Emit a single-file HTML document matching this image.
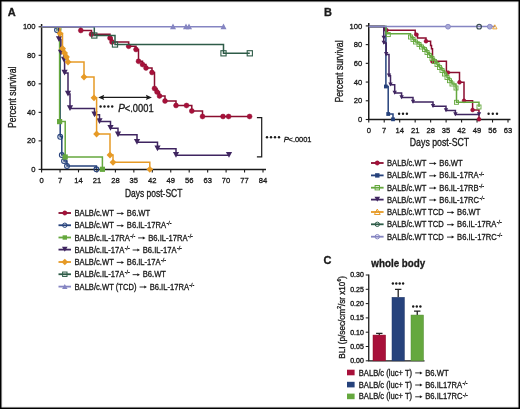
<!DOCTYPE html>
<html><head><meta charset="utf-8"><style>
html,body{margin:0;padding:0;background:#fff;}
body{width:520px;height:409px;overflow:hidden;}
svg{display:block;will-change:transform;}
text{stroke:#1a1a1a;stroke-width:0.32px;paint-order:stroke;}
</style></head><body>
<svg width="520" height="409" viewBox="0 0 520 409" font-family="'Liberation Sans', sans-serif">
<rect x="0" y="0" width="520" height="409" fill="#fff"/>
<path d="M41.6,24.0 V169.4 H266" fill="none" stroke="#1a1a1a" stroke-width="1.5"/>
<path d="M38.6,169.4 H41.6" stroke="#1a1a1a" stroke-width="1.1"/>
<text transform="translate(35.6,172.0) scale(0.94,1)" font-size="8.1" text-anchor="end" font-weight="normal" font-style="normal" fill="#1a1a1a" >0</text>
<path d="M38.6,140.88 H41.6" stroke="#1a1a1a" stroke-width="1.1"/>
<text transform="translate(35.6,143.48) scale(0.94,1)" font-size="8.1" text-anchor="end" font-weight="normal" font-style="normal" fill="#1a1a1a" >20</text>
<path d="M38.6,112.36000000000001 H41.6" stroke="#1a1a1a" stroke-width="1.1"/>
<text transform="translate(35.6,114.96000000000001) scale(0.94,1)" font-size="8.1" text-anchor="end" font-weight="normal" font-style="normal" fill="#1a1a1a" >40</text>
<path d="M38.6,83.84 H41.6" stroke="#1a1a1a" stroke-width="1.1"/>
<text transform="translate(35.6,86.44) scale(0.94,1)" font-size="8.1" text-anchor="end" font-weight="normal" font-style="normal" fill="#1a1a1a" >60</text>
<path d="M38.6,55.32000000000001 H41.6" stroke="#1a1a1a" stroke-width="1.1"/>
<text transform="translate(35.6,57.92000000000001) scale(0.94,1)" font-size="8.1" text-anchor="end" font-weight="normal" font-style="normal" fill="#1a1a1a" >80</text>
<path d="M38.6,26.80000000000001 H41.6" stroke="#1a1a1a" stroke-width="1.1"/>
<text transform="translate(35.6,29.400000000000013) scale(0.94,1)" font-size="8.1" text-anchor="end" font-weight="normal" font-style="normal" fill="#1a1a1a" >100</text>
<path d="M41.6,169.4 V172.4" stroke="#1a1a1a" stroke-width="1.1"/>
<text transform="translate(41.6,183.1) scale(0.94,1)" font-size="8.1" text-anchor="middle" font-weight="normal" font-style="normal" fill="#1a1a1a" >0</text>
<path d="M60.05,169.4 V172.4" stroke="#1a1a1a" stroke-width="1.1"/>
<text transform="translate(60.05,183.1) scale(0.94,1)" font-size="8.1" text-anchor="middle" font-weight="normal" font-style="normal" fill="#1a1a1a" >7</text>
<path d="M78.5,169.4 V172.4" stroke="#1a1a1a" stroke-width="1.1"/>
<text transform="translate(78.5,183.1) scale(0.94,1)" font-size="8.1" text-anchor="middle" font-weight="normal" font-style="normal" fill="#1a1a1a" >14</text>
<path d="M96.95000000000002,169.4 V172.4" stroke="#1a1a1a" stroke-width="1.1"/>
<text transform="translate(96.95000000000002,183.1) scale(0.94,1)" font-size="8.1" text-anchor="middle" font-weight="normal" font-style="normal" fill="#1a1a1a" >21</text>
<path d="M115.4,169.4 V172.4" stroke="#1a1a1a" stroke-width="1.1"/>
<text transform="translate(115.4,183.1) scale(0.94,1)" font-size="8.1" text-anchor="middle" font-weight="normal" font-style="normal" fill="#1a1a1a" >28</text>
<path d="M133.85,169.4 V172.4" stroke="#1a1a1a" stroke-width="1.1"/>
<text transform="translate(133.85,183.1) scale(0.94,1)" font-size="8.1" text-anchor="middle" font-weight="normal" font-style="normal" fill="#1a1a1a" >35</text>
<path d="M152.3,169.4 V172.4" stroke="#1a1a1a" stroke-width="1.1"/>
<text transform="translate(152.3,183.1) scale(0.94,1)" font-size="8.1" text-anchor="middle" font-weight="normal" font-style="normal" fill="#1a1a1a" >42</text>
<path d="M170.75,169.4 V172.4" stroke="#1a1a1a" stroke-width="1.1"/>
<text transform="translate(170.75,183.1) scale(0.94,1)" font-size="8.1" text-anchor="middle" font-weight="normal" font-style="normal" fill="#1a1a1a" >49</text>
<path d="M189.2,169.4 V172.4" stroke="#1a1a1a" stroke-width="1.1"/>
<text transform="translate(189.2,183.1) scale(0.94,1)" font-size="8.1" text-anchor="middle" font-weight="normal" font-style="normal" fill="#1a1a1a" >56</text>
<path d="M207.65,169.4 V172.4" stroke="#1a1a1a" stroke-width="1.1"/>
<text transform="translate(207.65,183.1) scale(0.94,1)" font-size="8.1" text-anchor="middle" font-weight="normal" font-style="normal" fill="#1a1a1a" >63</text>
<path d="M226.1,169.4 V172.4" stroke="#1a1a1a" stroke-width="1.1"/>
<text transform="translate(226.1,183.1) scale(0.94,1)" font-size="8.1" text-anchor="middle" font-weight="normal" font-style="normal" fill="#1a1a1a" >70</text>
<path d="M244.54999999999998,169.4 V172.4" stroke="#1a1a1a" stroke-width="1.1"/>
<text transform="translate(244.54999999999998,183.1) scale(0.94,1)" font-size="8.1" text-anchor="middle" font-weight="normal" font-style="normal" fill="#1a1a1a" >77</text>
<path d="M263.00000000000006,169.4 V172.4" stroke="#1a1a1a" stroke-width="1.1"/>
<text transform="translate(263.00000000000006,183.1) scale(0.94,1)" font-size="8.1" text-anchor="middle" font-weight="normal" font-style="normal" fill="#1a1a1a" >84</text>
<text x="125" y="197.0" font-size="10.4" text-anchor="start" font-weight="normal" font-style="normal" fill="#1a1a1a" textLength="57.3" lengthAdjust="spacingAndGlyphs" >Days post-SCT</text>
<text transform="translate(15.7,128.0) rotate(-90)" font-size="10" fill="#1a1a1a" textLength="61.4" lengthAdjust="spacingAndGlyphs">Percent survival</text>
<text x="7.7" y="16.0" font-size="11" text-anchor="start" font-weight="bold" font-style="normal" fill="#1a1a1a" >A</text>
<path d="M41.6,26.8 H80.8 V30.5 H91.5 V34.3 H110 V38 H112 V42 H128.7 V46.3 H136 V49.5 H138.5 V61.3 H142.5 V64.5 H146 V68 H152 V72.5 H154.5 V88.5 H157 V92 H159.5 V96 H165 V101 H176 V105.5 H191.8 V111 H202.5 V116.5 H249.6" stroke="#8a0d2f" stroke-width="1.5" fill="none"/>
<circle cx="80.8" cy="30.5" r="2.45" fill="#a8103a" stroke="#8a0d2f" stroke-width="0.5"/>
<circle cx="91.5" cy="34.3" r="2.45" fill="#a8103a" stroke="#8a0d2f" stroke-width="0.5"/>
<circle cx="110" cy="38" r="2.45" fill="#a8103a" stroke="#8a0d2f" stroke-width="0.5"/>
<circle cx="112" cy="42" r="2.45" fill="#a8103a" stroke="#8a0d2f" stroke-width="0.5"/>
<circle cx="128.7" cy="46.3" r="2.45" fill="#a8103a" stroke="#8a0d2f" stroke-width="0.5"/>
<circle cx="136" cy="49.5" r="2.45" fill="#a8103a" stroke="#8a0d2f" stroke-width="0.5"/>
<circle cx="138.5" cy="61.3" r="2.45" fill="#a8103a" stroke="#8a0d2f" stroke-width="0.5"/>
<circle cx="142.5" cy="64.5" r="2.45" fill="#a8103a" stroke="#8a0d2f" stroke-width="0.5"/>
<circle cx="146" cy="68" r="2.45" fill="#a8103a" stroke="#8a0d2f" stroke-width="0.5"/>
<circle cx="152" cy="72.5" r="2.45" fill="#a8103a" stroke="#8a0d2f" stroke-width="0.5"/>
<circle cx="154.5" cy="88.5" r="2.45" fill="#a8103a" stroke="#8a0d2f" stroke-width="0.5"/>
<circle cx="157" cy="92" r="2.45" fill="#a8103a" stroke="#8a0d2f" stroke-width="0.5"/>
<circle cx="159.5" cy="96" r="2.45" fill="#a8103a" stroke="#8a0d2f" stroke-width="0.5"/>
<circle cx="165" cy="101" r="2.45" fill="#a8103a" stroke="#8a0d2f" stroke-width="0.5"/>
<circle cx="176" cy="105.5" r="2.45" fill="#a8103a" stroke="#8a0d2f" stroke-width="0.5"/>
<circle cx="191.8" cy="111" r="2.45" fill="#a8103a" stroke="#8a0d2f" stroke-width="0.5"/>
<circle cx="202.5" cy="116.5" r="2.45" fill="#a8103a" stroke="#8a0d2f" stroke-width="0.5"/>
<circle cx="186.5" cy="105.5" r="2.45" fill="#a8103a" stroke="#8a0d2f" stroke-width="0.5"/>
<circle cx="223" cy="116.5" r="2.45" fill="#a8103a" stroke="#8a0d2f" stroke-width="0.5"/>
<circle cx="228.6" cy="116.5" r="2.45" fill="#a8103a" stroke="#8a0d2f" stroke-width="0.5"/>
<circle cx="249.6" cy="116.5" r="2.45" fill="#a8103a" stroke="#8a0d2f" stroke-width="0.5"/>
<path d="M41.6,26.8 H57 V30 H60.2 V136.8 H61.8 V155 H64 V161 H67 V166 H96.4 V169.3" stroke="#26427c" stroke-width="1.5" fill="none"/>
<circle cx="57" cy="30" r="2.4" fill="none" stroke="#26427c" stroke-width="1.1"/>
<circle cx="60.2" cy="136.8" r="2.4" fill="none" stroke="#26427c" stroke-width="1.1"/>
<circle cx="61.8" cy="155" r="2.4" fill="none" stroke="#26427c" stroke-width="1.1"/>
<circle cx="64" cy="161" r="2.4" fill="none" stroke="#26427c" stroke-width="1.1"/>
<circle cx="67" cy="166" r="2.4" fill="none" stroke="#26427c" stroke-width="1.1"/>
<circle cx="96.4" cy="169.3" r="2.4" fill="none" stroke="#26427c" stroke-width="1.1"/>
<path d="M41.6,26.8 H59.6 V121.6 H65.2 V157 H102.4 V169.3" stroke="#65a83e" stroke-width="1.5" fill="none"/>
<rect x="57.0" y="119.0" width="5.2" height="5.2" fill="#65a83e"/>
<rect x="62.6" y="154.4" width="5.2" height="5.2" fill="#65a83e"/>
<rect x="99.80000000000001" y="166.70000000000002" width="5.2" height="5.2" fill="#65a83e"/>
<circle cx="59.3" cy="29.3" r="2.2" fill="none" stroke="#9cc46a" stroke-width="1.0"/>
<path d="M41.6,26.8 H59 V39.5 H61 V53 H64 V60 H64.6 V73 H68 V94 H70 V108.5 H94.5 V114.8 H99.5 V121.5 H110.5 V128.2 H118 V134.8 H137 V142.2 H157.5 V148.8 H176 V155.3 H229" stroke="#3f2560" stroke-width="1.5" fill="none"/>
<path d="M55.90,36.24 L62.10,36.24 L59.00,41.98 Z" fill="#3f2560"/>
<path d="M57.90,49.74 L64.10,49.74 L61.00,55.48 Z" fill="#3f2560"/>
<path d="M60.90,56.74 L67.10,56.74 L64.00,62.48 Z" fill="#3f2560"/>
<path d="M61.50,69.75 L67.70,69.75 L64.60,75.48 Z" fill="#3f2560"/>
<path d="M64.90,90.75 L71.10,90.75 L68.00,96.48 Z" fill="#3f2560"/>
<path d="M66.90,105.25 L73.10,105.25 L70.00,110.98 Z" fill="#3f2560"/>
<path d="M91.40,111.55 L97.60,111.55 L94.50,117.28 Z" fill="#3f2560"/>
<path d="M96.40,118.25 L102.60,118.25 L99.50,123.98 Z" fill="#3f2560"/>
<path d="M107.40,124.94 L113.60,124.94 L110.50,130.68 Z" fill="#3f2560"/>
<path d="M114.90,131.55 L121.10,131.55 L118.00,137.28 Z" fill="#3f2560"/>
<path d="M133.90,138.94 L140.10,138.94 L137.00,144.68 Z" fill="#3f2560"/>
<path d="M154.40,145.55 L160.60,145.55 L157.50,151.28 Z" fill="#3f2560"/>
<path d="M172.90,152.05 L179.10,152.05 L176.00,157.78 Z" fill="#3f2560"/>
<path d="M225.90,152.05 L232.10,152.05 L229.00,157.78 Z" fill="#3f2560"/>
<path d="M41.6,26.8 H60 V33.5 H62.5 V48.5 H64.5 V53 H66.5 V57 H68 V62 H84 V77 H94 V97.8 H96.6 V134 H110 V155 H113 V162.3 H149.8 V169.3" stroke="#e69a26" stroke-width="1.5" fill="none"/>
<path d="M60,30.1 L63.4,33.5 L60,36.9 L56.6,33.5 Z" fill="#e69a26"/>
<path d="M62.5,45.1 L65.9,48.5 L62.5,51.9 L59.1,48.5 Z" fill="#e69a26"/>
<path d="M64.5,49.6 L67.9,53 L64.5,56.4 L61.1,53 Z" fill="#e69a26"/>
<path d="M66.5,53.6 L69.9,57 L66.5,60.4 L63.1,57 Z" fill="#e69a26"/>
<path d="M68,58.6 L71.4,62 L68,65.4 L64.6,62 Z" fill="#e69a26"/>
<path d="M84,73.6 L87.4,77 L84,80.4 L80.6,77 Z" fill="#e69a26"/>
<path d="M94,94.39999999999999 L97.4,97.8 L94,101.2 L90.6,97.8 Z" fill="#e69a26"/>
<path d="M96.6,130.6 L100.0,134 L96.6,137.4 L93.19999999999999,134 Z" fill="#e69a26"/>
<path d="M110,151.6 L113.4,155 L110,158.4 L106.6,155 Z" fill="#e69a26"/>
<path d="M113,158.9 L116.4,162.3 L113,165.70000000000002 L109.6,162.3 Z" fill="#e69a26"/>
<path d="M149.8,165.9 L153.20000000000002,169.3 L149.8,172.70000000000002 L146.4,169.3 Z" fill="#e69a26"/>
<path d="M41.6,26.8 H94.3 V35.5 H115 V44.5 H223.5 V53.3 H249.8" stroke="#2e5c48" stroke-width="1.5" fill="none"/>
<rect x="91.7" y="32.9" width="5.2" height="5.2" fill="none" stroke="#2e5c48" stroke-width="1.1"/>
<rect x="112.4" y="41.9" width="5.2" height="5.2" fill="none" stroke="#2e5c48" stroke-width="1.1"/>
<rect x="220.9" y="50.699999999999996" width="5.2" height="5.2" fill="none" stroke="#2e5c48" stroke-width="1.1"/>
<rect x="247.20000000000002" y="50.699999999999996" width="5.2" height="5.2" fill="none" stroke="#2e5c48" stroke-width="1.1"/>
<path d="M41.6,26.8 H223.5" stroke="#8585c2" stroke-width="1.5" fill="none"/>
<path d="M170.00,29.15 L176.00,29.15 L173.00,23.60 Z" fill="#8585c2"/>
<path d="M183.00,29.15 L189.00,29.15 L186.00,23.60 Z" fill="#8585c2"/>
<path d="M186.00,29.15 L192.00,29.15 L189.00,23.60 Z" fill="#8585c2"/>
<path d="M220.50,29.15 L226.50,29.15 L223.50,23.60 Z" fill="#8585c2"/>
<path d="M101,97.4 H149" stroke="#1a1a1a" stroke-width="1.3"/>
<path d="M98.2,97.4 L104.2,94.8 L103.2,97.4 L104.2,100.0 Z" fill="#1a1a1a"/>
<path d="M151.9,97.4 L145.9,94.8 L146.9,97.4 L145.9,100.0 Z" fill="#1a1a1a"/>
<circle cx="100.60" cy="106.5" r="1.2" fill="#1a1a1a"/><circle cx="104.47" cy="106.5" r="1.2" fill="#1a1a1a"/><circle cx="108.33" cy="106.5" r="1.2" fill="#1a1a1a"/><circle cx="112.20" cy="106.5" r="1.2" fill="#1a1a1a"/>
<text x="118.3" y="112.0" font-size="10" text-anchor="start" font-weight="normal" font-style="italic" fill="#1a1a1a" >P</text>
<text x="124.8" y="112.0" font-size="10" text-anchor="start" font-weight="normal" font-style="normal" fill="#1a1a1a" textLength="28.8" lengthAdjust="spacingAndGlyphs" >&lt;.0001</text>
<path d="M256.9,117.6 H261.7 V156.9 H256.9" fill="none" stroke="#1a1a1a" stroke-width="1.2"/>
<circle cx="267.00" cy="137.3" r="1.2" fill="#1a1a1a"/><circle cx="271.00" cy="137.3" r="1.2" fill="#1a1a1a"/><circle cx="275.00" cy="137.3" r="1.2" fill="#1a1a1a"/><circle cx="279.00" cy="137.3" r="1.2" fill="#1a1a1a"/>
<text x="283.8" y="142.0" font-size="7.8" text-anchor="start" font-weight="normal" font-style="italic" fill="#1a1a1a" >P</text>
<text x="288.6" y="142.0" font-size="7.8" text-anchor="start" font-weight="normal" font-style="normal" fill="#1a1a1a" textLength="22.9" lengthAdjust="spacingAndGlyphs" >&lt;.0001</text>
<path d="M58.5,213 H71" stroke="#8a0d2f" stroke-width="1.8"/>
<circle cx="64.8" cy="213" r="2.15" fill="#a8103a" stroke="#8a0d2f" stroke-width="0.5"/>
<text transform="translate(74.5,216.0) scale(0.885,1)" font-size="8.6" text-anchor="start" font-weight="normal" font-style="normal" fill="#1a1a1a" >BALB/c.WT</text>
<path d="M116.73,213.40 H121.83" stroke="#1a1a1a" stroke-width="0.9"/>
<path d="M121.43,211.90 L124.03,213.40 L121.43,214.90 Z" fill="#1a1a1a"/>
<text transform="translate(126.83,216.0) scale(0.885,1)" font-size="8.6" text-anchor="start" font-weight="normal" font-style="normal" fill="#1a1a1a" >B6.WT</text>
<path d="M58.5,225.25 H71" stroke="#26427c" stroke-width="1.8"/>
<circle cx="64.8" cy="225.25" r="2.2" fill="none" stroke="#26427c" stroke-width="1"/>
<text transform="translate(74.5,228.25) scale(0.885,1)" font-size="8.6" text-anchor="start" font-weight="normal" font-style="normal" fill="#1a1a1a" >BALB/c.WT</text>
<path d="M116.73,225.65 H121.83" stroke="#1a1a1a" stroke-width="0.9"/>
<path d="M121.43,224.15 L124.03,225.65 L121.43,227.15 Z" fill="#1a1a1a"/>
<text transform="translate(126.83,228.25) scale(0.885,1)" font-size="8.6" text-anchor="start" font-weight="normal" font-style="normal" fill="#1a1a1a" >B6.IL-17RA</text>
<text transform="translate(166.47,225.35) scale(0.885,1)" font-size="6.0" text-anchor="start" font-weight="normal" font-style="normal" fill="#1a1a1a" >-/-</text>
<path d="M58.5,237.5 H71" stroke="#65a83e" stroke-width="1.8"/>
<rect x="62.599999999999994" y="235.3" width="4.4" height="4.4" fill="#65a83e"/>
<text transform="translate(74.5,240.5) scale(0.885,1)" font-size="8.6" text-anchor="start" font-weight="normal" font-style="normal" fill="#1a1a1a" >BALB/c.IL-17RA</text>
<text transform="translate(130.22,237.6) scale(0.885,1)" font-size="6.0" text-anchor="start" font-weight="normal" font-style="normal" fill="#1a1a1a" >-/-</text>
<path d="M138.13,237.90 H143.23" stroke="#1a1a1a" stroke-width="0.9"/>
<path d="M142.83,236.40 L145.43,237.90 L142.83,239.40 Z" fill="#1a1a1a"/>
<text transform="translate(148.23,240.5) scale(0.885,1)" font-size="8.6" text-anchor="start" font-weight="normal" font-style="normal" fill="#1a1a1a" >B6.IL-17RA</text>
<text transform="translate(187.87,237.6) scale(0.885,1)" font-size="6.0" text-anchor="start" font-weight="normal" font-style="normal" fill="#1a1a1a" >-/-</text>
<path d="M58.5,249.6 H71" stroke="#3f2560" stroke-width="1.8"/>
<path d="M62.00,246.66 L67.60,246.66 L64.80,251.84 Z" fill="#3f2560"/>
<text transform="translate(74.5,252.6) scale(0.885,1)" font-size="8.6" text-anchor="start" font-weight="normal" font-style="normal" fill="#1a1a1a" >BALB/c.IL-17A</text>
<text transform="translate(124.72,249.7) scale(0.885,1)" font-size="6.0" text-anchor="start" font-weight="normal" font-style="normal" fill="#1a1a1a" >-/-</text>
<path d="M132.63,250.00 H137.73" stroke="#1a1a1a" stroke-width="0.9"/>
<path d="M137.33,248.50 L139.93,250.00 L137.33,251.50 Z" fill="#1a1a1a"/>
<text transform="translate(142.73,252.6) scale(0.885,1)" font-size="8.6" text-anchor="start" font-weight="normal" font-style="normal" fill="#1a1a1a" >B6.IL-17A</text>
<text transform="translate(176.88,249.7) scale(0.885,1)" font-size="6.0" text-anchor="start" font-weight="normal" font-style="normal" fill="#1a1a1a" >-/-</text>
<path d="M58.5,262 H71" stroke="#e69a26" stroke-width="1.8"/>
<path d="M64.8,258.7 L68.1,262 L64.8,265.3 L61.5,262 Z" fill="#e69a26"/>
<text transform="translate(74.5,265.0) scale(0.885,1)" font-size="8.6" text-anchor="start" font-weight="normal" font-style="normal" fill="#1a1a1a" >BALB/c.WT</text>
<path d="M116.73,262.40 H121.83" stroke="#1a1a1a" stroke-width="0.9"/>
<path d="M121.43,260.90 L124.03,262.40 L121.43,263.90 Z" fill="#1a1a1a"/>
<text transform="translate(126.83,265.0) scale(0.885,1)" font-size="8.6" text-anchor="start" font-weight="normal" font-style="normal" fill="#1a1a1a" >B6.IL-17A</text>
<text transform="translate(160.98,262.1) scale(0.885,1)" font-size="6.0" text-anchor="start" font-weight="normal" font-style="normal" fill="#1a1a1a" >-/-</text>
<path d="M58.5,274.25 H71" stroke="#2e5c48" stroke-width="1.8"/>
<rect x="62.599999999999994" y="272.05" width="4.4" height="4.4" fill="none" stroke="#2e5c48" stroke-width="1"/>
<text transform="translate(74.5,277.25) scale(0.885,1)" font-size="8.6" text-anchor="start" font-weight="normal" font-style="normal" fill="#1a1a1a" >BALB/c.IL-17A</text>
<text transform="translate(124.72,274.35) scale(0.885,1)" font-size="6.0" text-anchor="start" font-weight="normal" font-style="normal" fill="#1a1a1a" >-/-</text>
<path d="M132.63,274.65 H137.73" stroke="#1a1a1a" stroke-width="0.9"/>
<path d="M137.33,273.15 L139.93,274.65 L137.33,276.15 Z" fill="#1a1a1a"/>
<text transform="translate(142.73,277.25) scale(0.885,1)" font-size="8.6" text-anchor="start" font-weight="normal" font-style="normal" fill="#1a1a1a" >B6.WT</text>
<path d="M58.5,286.6 H71" stroke="#8585c2" stroke-width="1.8"/>
<path d="M62.10,288.90 L67.50,288.90 L64.80,283.90 Z" fill="#8585c2"/>
<text transform="translate(74.5,289.6) scale(0.885,1)" font-size="8.6" text-anchor="start" font-weight="normal" font-style="normal" fill="#1a1a1a" >BALB/c.WT (TCD)</text>
<path d="M139.56,287.00 H144.66" stroke="#1a1a1a" stroke-width="0.9"/>
<path d="M144.26,285.50 L146.86,287.00 L144.26,288.50 Z" fill="#1a1a1a"/>
<text transform="translate(149.66,289.6) scale(0.885,1)" font-size="8.6" text-anchor="start" font-weight="normal" font-style="normal" fill="#1a1a1a" >B6.IL-17RA</text>
<text transform="translate(189.3,286.7) scale(0.885,1)" font-size="6.0" text-anchor="start" font-weight="normal" font-style="normal" fill="#1a1a1a" >-/-</text>
<path d="M368.75,23.099999999999998 V119.5 H510.5" fill="none" stroke="#1a1a1a" stroke-width="1.5"/>
<path d="M365.75,119.5 H368.75" stroke="#1a1a1a" stroke-width="1.1"/>
<text transform="translate(362.2,122.1) scale(0.94,1)" font-size="8.1" text-anchor="end" font-weight="normal" font-style="normal" fill="#1a1a1a" >0</text>
<path d="M365.75,100.78 H368.75" stroke="#1a1a1a" stroke-width="1.1"/>
<text transform="translate(362.2,103.38) scale(0.94,1)" font-size="8.1" text-anchor="end" font-weight="normal" font-style="normal" fill="#1a1a1a" >20</text>
<path d="M365.75,82.06 H368.75" stroke="#1a1a1a" stroke-width="1.1"/>
<text transform="translate(362.2,84.66) scale(0.94,1)" font-size="8.1" text-anchor="end" font-weight="normal" font-style="normal" fill="#1a1a1a" >40</text>
<path d="M365.75,63.34 H368.75" stroke="#1a1a1a" stroke-width="1.1"/>
<text transform="translate(362.2,65.94) scale(0.94,1)" font-size="8.1" text-anchor="end" font-weight="normal" font-style="normal" fill="#1a1a1a" >60</text>
<path d="M365.75,44.620000000000005 H368.75" stroke="#1a1a1a" stroke-width="1.1"/>
<text transform="translate(362.2,47.220000000000006) scale(0.94,1)" font-size="8.1" text-anchor="end" font-weight="normal" font-style="normal" fill="#1a1a1a" >80</text>
<path d="M365.75,25.900000000000006 H368.75" stroke="#1a1a1a" stroke-width="1.1"/>
<text transform="translate(362.2,28.500000000000007) scale(0.94,1)" font-size="8.1" text-anchor="end" font-weight="normal" font-style="normal" fill="#1a1a1a" >100</text>
<path d="M368.75,119.5 V122.5" stroke="#1a1a1a" stroke-width="1.1"/>
<text transform="translate(368.75,132.8) scale(0.94,1)" font-size="8.1" text-anchor="middle" font-weight="normal" font-style="normal" fill="#1a1a1a" >0</text>
<path d="M384.22222222222223,119.5 V122.5" stroke="#1a1a1a" stroke-width="1.1"/>
<text transform="translate(384.22222222222223,132.8) scale(0.94,1)" font-size="8.1" text-anchor="middle" font-weight="normal" font-style="normal" fill="#1a1a1a" >7</text>
<path d="M399.69444444444446,119.5 V122.5" stroke="#1a1a1a" stroke-width="1.1"/>
<text transform="translate(399.69444444444446,132.8) scale(0.94,1)" font-size="8.1" text-anchor="middle" font-weight="normal" font-style="normal" fill="#1a1a1a" >14</text>
<path d="M415.1666666666667,119.5 V122.5" stroke="#1a1a1a" stroke-width="1.1"/>
<text transform="translate(415.1666666666667,132.8) scale(0.94,1)" font-size="8.1" text-anchor="middle" font-weight="normal" font-style="normal" fill="#1a1a1a" >21</text>
<path d="M430.6388888888889,119.5 V122.5" stroke="#1a1a1a" stroke-width="1.1"/>
<text transform="translate(430.6388888888889,132.8) scale(0.94,1)" font-size="8.1" text-anchor="middle" font-weight="normal" font-style="normal" fill="#1a1a1a" >28</text>
<path d="M446.1111111111111,119.5 V122.5" stroke="#1a1a1a" stroke-width="1.1"/>
<text transform="translate(446.1111111111111,132.8) scale(0.94,1)" font-size="8.1" text-anchor="middle" font-weight="normal" font-style="normal" fill="#1a1a1a" >35</text>
<path d="M461.5833333333333,119.5 V122.5" stroke="#1a1a1a" stroke-width="1.1"/>
<text transform="translate(461.5833333333333,132.8) scale(0.94,1)" font-size="8.1" text-anchor="middle" font-weight="normal" font-style="normal" fill="#1a1a1a" >42</text>
<path d="M477.05555555555554,119.5 V122.5" stroke="#1a1a1a" stroke-width="1.1"/>
<text transform="translate(477.05555555555554,132.8) scale(0.94,1)" font-size="8.1" text-anchor="middle" font-weight="normal" font-style="normal" fill="#1a1a1a" >49</text>
<path d="M492.52777777777777,119.5 V122.5" stroke="#1a1a1a" stroke-width="1.1"/>
<text transform="translate(492.52777777777777,132.8) scale(0.94,1)" font-size="8.1" text-anchor="middle" font-weight="normal" font-style="normal" fill="#1a1a1a" >56</text>
<path d="M508.0,119.5 V122.5" stroke="#1a1a1a" stroke-width="1.1"/>
<text transform="translate(508.0,132.8) scale(0.94,1)" font-size="8.1" text-anchor="middle" font-weight="normal" font-style="normal" fill="#1a1a1a" >63</text>
<text x="409.8" y="146.3" font-size="10.4" text-anchor="start" font-weight="normal" font-style="normal" fill="#1a1a1a" textLength="59.4" lengthAdjust="spacingAndGlyphs" >Days post-SCT</text>
<text transform="translate(342.6,102.6) rotate(-90)" font-size="10" fill="#1a1a1a" textLength="62.2" lengthAdjust="spacingAndGlyphs">Percent survival</text>
<text x="323.9" y="16.1" font-size="11" text-anchor="start" font-weight="bold" font-style="normal" fill="#1a1a1a" >B</text>
<path d="M368.75,26.5 H384.4 V30.2 H415.2 V33.9 H417.5 V37.9 H426 V41.2 H430.6 V45.5 H431.5 V48.7 H432.5 V61.2 H446.4 V72.6 H459.5 V82.3 H464 V100.8 H472.6 V110 H479 V119.3" stroke="#8a0d2f" stroke-width="1.5" fill="none"/>
<circle cx="386.5" cy="30.2" r="1.9500000000000002" fill="#a8103a" stroke="#8a0d2f" stroke-width="0.5"/>
<circle cx="416.3" cy="34.6" r="1.9500000000000002" fill="#a8103a" stroke="#8a0d2f" stroke-width="0.5"/>
<circle cx="426" cy="41.2" r="1.9500000000000002" fill="#a8103a" stroke="#8a0d2f" stroke-width="0.5"/>
<circle cx="432.5" cy="61.5" r="1.9500000000000002" fill="#a8103a" stroke="#8a0d2f" stroke-width="0.5"/>
<circle cx="448" cy="72.6" r="1.9500000000000002" fill="#a8103a" stroke="#8a0d2f" stroke-width="0.5"/>
<circle cx="459.5" cy="82.3" r="1.9500000000000002" fill="#a8103a" stroke="#8a0d2f" stroke-width="0.5"/>
<circle cx="464" cy="100.8" r="1.9500000000000002" fill="#a8103a" stroke="#8a0d2f" stroke-width="0.5"/>
<circle cx="472.6" cy="110" r="1.9500000000000002" fill="#a8103a" stroke="#8a0d2f" stroke-width="0.5"/>
<circle cx="479" cy="119.3" r="1.9500000000000002" fill="#a8103a" stroke="#8a0d2f" stroke-width="0.5"/>
<path d="M368.75,26.5 H385.9 V86.5 H388.2 V114 H393 V119.3" stroke="#26427c" stroke-width="1.5" fill="none"/>
<rect x="384.0" y="84.6" width="3.8" height="3.8" fill="#26427c"/>
<rect x="386.3" y="112.1" width="3.8" height="3.8" fill="#26427c"/>
<rect x="391.1" y="117.39999999999999" width="3.8" height="3.8" fill="#26427c"/>
<path d="M368.75,26.5 H386 V33.7 H410.5 V37 H413 V39.5 H415.5 V42 H419 V44.5 H421.5 V47 H424.5 V49.5 H427 V52.5 H429.5 V55.5 H432 V58.5 H434.5 V61.5 H437 V64.5 H439.5 V67.5 H442 V70.5 H444.5 V74 H447 V77.5 H449.5 V80.7 H452 V84 H456 V88 H456.5 V102.3 H479 V107" stroke="#65a83e" stroke-width="1.5" fill="none"/>
<rect x="386.3" y="32.6" width="4.0" height="4.0" fill="none" stroke="#65a83e" stroke-width="0.9"/>
<rect x="408.5" y="35.0" width="4.0" height="4.0" fill="none" stroke="#65a83e" stroke-width="0.9"/>
<rect x="411.0" y="37.5" width="4.0" height="4.0" fill="none" stroke="#65a83e" stroke-width="0.9"/>
<rect x="413.5" y="40.0" width="4.0" height="4.0" fill="none" stroke="#65a83e" stroke-width="0.9"/>
<rect x="417.0" y="42.5" width="4.0" height="4.0" fill="none" stroke="#65a83e" stroke-width="0.9"/>
<rect x="419.5" y="45.0" width="4.0" height="4.0" fill="none" stroke="#65a83e" stroke-width="0.9"/>
<rect x="422.5" y="47.5" width="4.0" height="4.0" fill="none" stroke="#65a83e" stroke-width="0.9"/>
<rect x="425.0" y="50.5" width="4.0" height="4.0" fill="none" stroke="#65a83e" stroke-width="0.9"/>
<rect x="427.5" y="53.5" width="4.0" height="4.0" fill="none" stroke="#65a83e" stroke-width="0.9"/>
<rect x="430.0" y="56.5" width="4.0" height="4.0" fill="none" stroke="#65a83e" stroke-width="0.9"/>
<rect x="432.5" y="59.5" width="4.0" height="4.0" fill="none" stroke="#65a83e" stroke-width="0.9"/>
<rect x="435.0" y="62.5" width="4.0" height="4.0" fill="none" stroke="#65a83e" stroke-width="0.9"/>
<rect x="437.5" y="65.5" width="4.0" height="4.0" fill="none" stroke="#65a83e" stroke-width="0.9"/>
<rect x="440.0" y="68.5" width="4.0" height="4.0" fill="none" stroke="#65a83e" stroke-width="0.9"/>
<rect x="442.5" y="72.0" width="4.0" height="4.0" fill="none" stroke="#65a83e" stroke-width="0.9"/>
<rect x="445.0" y="75.5" width="4.0" height="4.0" fill="none" stroke="#65a83e" stroke-width="0.9"/>
<rect x="447.5" y="78.7" width="4.0" height="4.0" fill="none" stroke="#65a83e" stroke-width="0.9"/>
<rect x="450.0" y="82.0" width="4.0" height="4.0" fill="none" stroke="#65a83e" stroke-width="0.9"/>
<rect x="454.0" y="86.0" width="4.0" height="4.0" fill="none" stroke="#65a83e" stroke-width="0.9"/>
<rect x="454.5" y="100.3" width="4.0" height="4.0" fill="none" stroke="#65a83e" stroke-width="0.9"/>
<rect x="477.0" y="105.0" width="4.0" height="4.0" fill="none" stroke="#65a83e" stroke-width="0.9"/>
<path d="M368.75,26.5 H383.75 V38 H383.75 V43 H386.2 V54.4 H389 V75.8 H390.5 V84.8 H394.7 V93 H401.6 V97.5 H413 V102 H433 V106.2 H446 V110.5 H455.4 V114.5 H479" stroke="#3f2560" stroke-width="1.5" fill="none"/>
<path d="M381.55,35.69 L385.95,35.69 L383.75,39.76 Z" fill="#3f2560"/>
<path d="M381.55,40.69 L385.95,40.69 L383.75,44.76 Z" fill="#3f2560"/>
<path d="M384.00,52.09 L388.40,52.09 L386.20,56.16 Z" fill="#3f2560"/>
<path d="M386.80,73.49 L391.20,73.49 L389.00,77.56 Z" fill="#3f2560"/>
<path d="M388.30,82.49 L392.70,82.49 L390.50,86.56 Z" fill="#3f2560"/>
<path d="M392.50,90.69 L396.90,90.69 L394.70,94.76 Z" fill="#3f2560"/>
<path d="M399.40,95.19 L403.80,95.19 L401.60,99.26 Z" fill="#3f2560"/>
<path d="M410.80,99.69 L415.20,99.69 L413.00,103.76 Z" fill="#3f2560"/>
<path d="M430.80,103.89 L435.20,103.89 L433.00,107.96 Z" fill="#3f2560"/>
<path d="M443.80,108.19 L448.20,108.19 L446.00,112.26 Z" fill="#3f2560"/>
<path d="M453.20,112.19 L457.60,112.19 L455.40,116.26 Z" fill="#3f2560"/>
<path d="M476.80,112.19 L481.20,112.19 L479.00,116.26 Z" fill="#3f2560"/>
<path d="M368.75,26.5 H495" stroke="#8585c2" stroke-width="1.5" fill="none"/>
<circle cx="448" cy="26.7" r="2.4" fill="#a9a9d6" stroke="#8585c2" stroke-width="0.9"/>
<circle cx="479.1" cy="26.7" r="2.3" fill="none" stroke="#384a52" stroke-width="1.1"/>
<circle cx="489.8" cy="26.7" r="2.4" fill="#a9a9d6" stroke="#8585c2" stroke-width="0.9"/>
<path d="M492.60,28.87 L497.00,28.87 L494.80,24.80 Z" fill="none" stroke="#e69a26" stroke-width="0.9"/>
<circle cx="399.10" cy="113.8" r="1.2" fill="#1a1a1a"/><circle cx="403.00" cy="113.8" r="1.2" fill="#1a1a1a"/><circle cx="406.90" cy="113.8" r="1.2" fill="#1a1a1a"/>
<circle cx="488.60" cy="113.8" r="1.2" fill="#1a1a1a"/><circle cx="492.80" cy="113.8" r="1.2" fill="#1a1a1a"/><circle cx="497.00" cy="113.8" r="1.2" fill="#1a1a1a"/>
<path d="M371,163 H383.6" stroke="#8a0d2f" stroke-width="1.8"/>
<circle cx="377.3" cy="163" r="2.15" fill="#a8103a" stroke="#8a0d2f" stroke-width="0.5"/>
<text transform="translate(387,166.0) scale(0.885,1)" font-size="8.6" text-anchor="start" font-weight="normal" font-style="normal" fill="#1a1a1a" >BALB/c.WT</text>
<path d="M429.23,163.40 H434.33" stroke="#1a1a1a" stroke-width="0.9"/>
<path d="M433.93,161.90 L436.53,163.40 L433.93,164.90 Z" fill="#1a1a1a"/>
<text transform="translate(439.33,166.0) scale(0.885,1)" font-size="8.6" text-anchor="start" font-weight="normal" font-style="normal" fill="#1a1a1a" >B6.WT</text>
<path d="M371,175.4 H383.6" stroke="#26427c" stroke-width="1.8"/>
<rect x="375.1" y="173.20000000000002" width="4.4" height="4.4" fill="#26427c"/>
<text transform="translate(387,178.4) scale(0.885,1)" font-size="8.6" text-anchor="start" font-weight="normal" font-style="normal" fill="#1a1a1a" >BALB/c.WT</text>
<path d="M429.23,175.80 H434.33" stroke="#1a1a1a" stroke-width="0.9"/>
<path d="M433.93,174.30 L436.53,175.80 L433.93,177.30 Z" fill="#1a1a1a"/>
<text transform="translate(439.33,178.4) scale(0.885,1)" font-size="8.6" text-anchor="start" font-weight="normal" font-style="normal" fill="#1a1a1a" >B6.IL-17RA</text>
<text transform="translate(478.97,175.5) scale(0.885,1)" font-size="6.0" text-anchor="start" font-weight="normal" font-style="normal" fill="#1a1a1a" >-/-</text>
<path d="M371,187.7 H383.6" stroke="#65a83e" stroke-width="1.8"/>
<rect x="375.1" y="185.5" width="4.4" height="4.4" fill="none" stroke="#65a83e" stroke-width="1"/>
<text transform="translate(387,190.7) scale(0.885,1)" font-size="8.6" text-anchor="start" font-weight="normal" font-style="normal" fill="#1a1a1a" >BALB/c.WT</text>
<path d="M429.23,188.10 H434.33" stroke="#1a1a1a" stroke-width="0.9"/>
<path d="M433.93,186.60 L436.53,188.10 L433.93,189.60 Z" fill="#1a1a1a"/>
<text transform="translate(439.33,190.7) scale(0.885,1)" font-size="8.6" text-anchor="start" font-weight="normal" font-style="normal" fill="#1a1a1a" >B6.IL-17RB</text>
<text transform="translate(478.97,187.8) scale(0.885,1)" font-size="6.0" text-anchor="start" font-weight="normal" font-style="normal" fill="#1a1a1a" >-/-</text>
<path d="M371,199.6 H383.6" stroke="#3f2560" stroke-width="1.8"/>
<path d="M374.50,196.66 L380.10,196.66 L377.30,201.84 Z" fill="#3f2560"/>
<text transform="translate(387,202.6) scale(0.885,1)" font-size="8.6" text-anchor="start" font-weight="normal" font-style="normal" fill="#1a1a1a" >BALB/c.WT</text>
<path d="M429.23,200.00 H434.33" stroke="#1a1a1a" stroke-width="0.9"/>
<path d="M433.93,198.50 L436.53,200.00 L433.93,201.50 Z" fill="#1a1a1a"/>
<text transform="translate(439.33,202.6) scale(0.885,1)" font-size="8.6" text-anchor="start" font-weight="normal" font-style="normal" fill="#1a1a1a" >B6.IL-17RC</text>
<text transform="translate(479.39,199.7) scale(0.885,1)" font-size="6.0" text-anchor="start" font-weight="normal" font-style="normal" fill="#1a1a1a" >-/-</text>
<path d="M371,212 H383.6" stroke="#e69a26" stroke-width="1.8"/>
<path d="M374.40,214.47 L380.20,214.47 L377.30,209.10 Z" fill="none" stroke="#e69a26" stroke-width="1"/>
<text transform="translate(387,215.0) scale(0.885,1)" font-size="8.6" text-anchor="start" font-weight="normal" font-style="normal" fill="#1a1a1a" >BALB/c.WT TCD</text>
<path d="M446.99,212.40 H452.09" stroke="#1a1a1a" stroke-width="0.9"/>
<path d="M451.69,210.90 L454.29,212.40 L451.69,213.90 Z" fill="#1a1a1a"/>
<text transform="translate(457.09,215.0) scale(0.885,1)" font-size="8.6" text-anchor="start" font-weight="normal" font-style="normal" fill="#1a1a1a" >B6.WT</text>
<path d="M371,224.3 H383.6" stroke="#2e5c48" stroke-width="1.8"/>
<circle cx="377.3" cy="224.3" r="2.2" fill="none" stroke="#2e5c48" stroke-width="1"/>
<text transform="translate(387,227.3) scale(0.885,1)" font-size="8.6" text-anchor="start" font-weight="normal" font-style="normal" fill="#1a1a1a" >BALB/c.WT TCD</text>
<path d="M446.99,224.70 H452.09" stroke="#1a1a1a" stroke-width="0.9"/>
<path d="M451.69,223.20 L454.29,224.70 L451.69,226.20 Z" fill="#1a1a1a"/>
<text transform="translate(457.09,227.3) scale(0.885,1)" font-size="8.6" text-anchor="start" font-weight="normal" font-style="normal" fill="#1a1a1a" >B6.IL-17RA</text>
<text transform="translate(496.73,224.4) scale(0.885,1)" font-size="6.0" text-anchor="start" font-weight="normal" font-style="normal" fill="#1a1a1a" >-/-</text>
<path d="M371,236.7 H383.6" stroke="#8585c2" stroke-width="1.8"/>
<circle cx="377.3" cy="236.7" r="2.2" fill="none" stroke="#8585c2" stroke-width="1"/>
<text transform="translate(387,239.7) scale(0.885,1)" font-size="8.6" text-anchor="start" font-weight="normal" font-style="normal" fill="#1a1a1a" >BALB/c.WT TCD</text>
<path d="M446.99,237.10 H452.09" stroke="#1a1a1a" stroke-width="0.9"/>
<path d="M451.69,235.60 L454.29,237.10 L451.69,238.60 Z" fill="#1a1a1a"/>
<text transform="translate(457.09,239.7) scale(0.885,1)" font-size="8.6" text-anchor="start" font-weight="normal" font-style="normal" fill="#1a1a1a" >B6.IL-17RC</text>
<text transform="translate(497.15,236.8) scale(0.885,1)" font-size="6.0" text-anchor="start" font-weight="normal" font-style="normal" fill="#1a1a1a" >-/-</text>
<text x="323.6" y="264.4" font-size="11" text-anchor="start" font-weight="bold" font-style="normal" fill="#1a1a1a" >C</text>
<text x="371.3" y="267.0" font-size="10.4" text-anchor="start" font-weight="bold" font-style="normal" fill="#1a1a1a" textLength="54.0" lengthAdjust="spacingAndGlyphs" >whole body</text>
<path d="M368.75,274.5 V360.8 H424.5" fill="none" stroke="#1a1a1a" stroke-width="1.3"/>
<path d="M365.75,360.8 H368.75" stroke="#1a1a1a" stroke-width="1"/>
<text x="363.8" y="363.1" font-size="6.4" text-anchor="end" font-weight="normal" font-style="normal" fill="#1a1a1a" textLength="13.6" lengthAdjust="spacingAndGlyphs" >0.00</text>
<path d="M365.75,346.5 H368.75" stroke="#1a1a1a" stroke-width="1"/>
<text x="363.8" y="348.8" font-size="6.4" text-anchor="end" font-weight="normal" font-style="normal" fill="#1a1a1a" textLength="13.6" lengthAdjust="spacingAndGlyphs" >0.05</text>
<path d="M365.75,332.2 H368.75" stroke="#1a1a1a" stroke-width="1"/>
<text x="363.8" y="334.5" font-size="6.4" text-anchor="end" font-weight="normal" font-style="normal" fill="#1a1a1a" textLength="13.6" lengthAdjust="spacingAndGlyphs" >0.10</text>
<path d="M365.75,317.9 H368.75" stroke="#1a1a1a" stroke-width="1"/>
<text x="363.8" y="320.2" font-size="6.4" text-anchor="end" font-weight="normal" font-style="normal" fill="#1a1a1a" textLength="13.6" lengthAdjust="spacingAndGlyphs" >0.15</text>
<path d="M365.75,303.6 H368.75" stroke="#1a1a1a" stroke-width="1"/>
<text x="363.8" y="305.90000000000003" font-size="6.4" text-anchor="end" font-weight="normal" font-style="normal" fill="#1a1a1a" textLength="13.6" lengthAdjust="spacingAndGlyphs" >0.20</text>
<path d="M365.75,289.3 H368.75" stroke="#1a1a1a" stroke-width="1"/>
<text x="363.8" y="291.6" font-size="6.4" text-anchor="end" font-weight="normal" font-style="normal" fill="#1a1a1a" textLength="13.6" lengthAdjust="spacingAndGlyphs" >0.25</text>
<path d="M365.75,275.0 H368.75" stroke="#1a1a1a" stroke-width="1"/>
<text x="363.8" y="277.3" font-size="6.4" text-anchor="end" font-weight="normal" font-style="normal" fill="#1a1a1a" textLength="13.6" lengthAdjust="spacingAndGlyphs" >0.30</text>
<path d="M379.3,335.06 V333.344 M376.1,333.344 H382.5" stroke="#222" stroke-width="1.3"/>
<rect x="373" y="335.06" width="12.600000000000023" height="25.74000000000001" fill="#a8103a" stroke="#8c0a22" stroke-width="0.5"/>
<path d="M398.2,297.308 V289.3 M395.0,289.3 H401.4" stroke="#222" stroke-width="1.3"/>
<rect x="392" y="297.308" width="12.399999999999977" height="63.49200000000002" fill="#26427c" stroke="#1e3767" stroke-width="0.5"/>
<path d="M417.25,315.04 V311.036 M414.05,311.036 H420.45" stroke="#222" stroke-width="1.3"/>
<rect x="411" y="315.04" width="12.5" height="45.75999999999999" fill="#65a83e" stroke="#548d35" stroke-width="0.5"/>
<circle cx="392.90" cy="283.5" r="1.2" fill="#1a1a1a"/><circle cx="396.30" cy="283.5" r="1.2" fill="#1a1a1a"/><circle cx="399.70" cy="283.5" r="1.2" fill="#1a1a1a"/><circle cx="403.10" cy="283.5" r="1.2" fill="#1a1a1a"/>
<circle cx="413.20" cy="306.5" r="1.2" fill="#1a1a1a"/><circle cx="416.80" cy="306.5" r="1.2" fill="#1a1a1a"/><circle cx="420.40" cy="306.5" r="1.2" fill="#1a1a1a"/>
<text transform="translate(344.6,358.7) rotate(-90)" font-size="8.9" fill="#1a1a1a" textLength="82.6" lengthAdjust="spacingAndGlyphs">BLI (p/sec/cm<tspan dy="-3.2" font-size="5.4">2</tspan><tspan dy="3.2">/sr x10</tspan><tspan dy="-3.2" font-size="5.4">6</tspan><tspan dy="3.2">)</tspan></text>
<rect x="347" y="369.7" width="7.6" height="5.6" fill="#a8103a"/>
<text transform="translate(358.8,375.5) scale(0.885,1)" font-size="8.6" text-anchor="start" font-weight="normal" font-style="normal" fill="#1a1a1a" >BALB/c (luc+ T)</text>
<path d="M415.20,372.90 H420.30" stroke="#1a1a1a" stroke-width="0.9"/>
<path d="M419.90,371.40 L422.50,372.90 L419.90,374.40 Z" fill="#1a1a1a"/>
<text transform="translate(425.3,375.5) scale(0.885,1)" font-size="8.6" text-anchor="start" font-weight="normal" font-style="normal" fill="#1a1a1a" >B6.WT</text>
<rect x="347" y="381.8" width="7.6" height="5.6" fill="#26427c"/>
<text transform="translate(358.8,387.6) scale(0.885,1)" font-size="8.6" text-anchor="start" font-weight="normal" font-style="normal" fill="#1a1a1a" >BALB/c (luc+ T)</text>
<path d="M415.20,385.00 H420.30" stroke="#1a1a1a" stroke-width="0.9"/>
<path d="M419.90,383.50 L422.50,385.00 L419.90,386.50 Z" fill="#1a1a1a"/>
<text transform="translate(425.3,387.6) scale(0.885,1)" font-size="8.6" text-anchor="start" font-weight="normal" font-style="normal" fill="#1a1a1a" >B6.IL17RA</text>
<text transform="translate(462.41,384.7) scale(0.885,1)" font-size="6.0" text-anchor="start" font-weight="normal" font-style="normal" fill="#1a1a1a" >-/-</text>
<rect x="347" y="393.59999999999997" width="7.6" height="5.6" fill="#65a83e"/>
<text transform="translate(358.8,399.4) scale(0.885,1)" font-size="8.6" text-anchor="start" font-weight="normal" font-style="normal" fill="#1a1a1a" >BALB/c (luc+ T)</text>
<path d="M415.20,396.80 H420.30" stroke="#1a1a1a" stroke-width="0.9"/>
<path d="M419.90,395.30 L422.50,396.80 L419.90,398.30 Z" fill="#1a1a1a"/>
<text transform="translate(425.3,399.4) scale(0.885,1)" font-size="8.6" text-anchor="start" font-weight="normal" font-style="normal" fill="#1a1a1a" >B6.IL17RC</text>
<text transform="translate(462.83,396.5) scale(0.885,1)" font-size="6.0" text-anchor="start" font-weight="normal" font-style="normal" fill="#1a1a1a" >-/-</text>
<rect x="2" y="2" width="516" height="405" fill="none" stroke="#e8e8e8" stroke-width="1"/>
<rect x="0" y="0" width="520" height="1.5" fill="#000"/>
<rect x="0" y="0" width="1.5" height="409" fill="#000"/>
<rect x="518.5" y="0" width="1.5" height="409" fill="#000"/>
<rect x="0" y="407.5" width="520" height="1.5" fill="#000"/>
</svg>
</body></html>
